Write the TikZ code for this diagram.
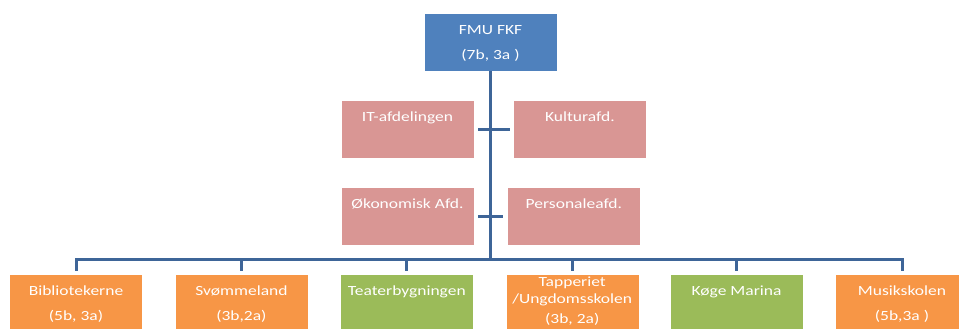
\documentclass[tikz,border=0pt]{standalone}
\usepackage{fontspec}
\setmainfont{Carlito}[FakeStretch=1.25]
\usetikzlibrary{positioning}

\definecolor{fmublue}{RGB}{79,129,189}
\definecolor{stabpink}{RGB}{217,150,148}
\definecolor{instorange}{RGB}{247,150,70}
\definecolor{instgreen}{RGB}{155,187,89}
\definecolor{linkblue}{RGB}{62,101,152}

\newcommand{\bx}[2][21.5pt]{\parbox[c][58pt][t]{133pt}{\centering\rule{0pt}{#1}#2}}

\begin{document}
\begin{tikzpicture}[x=1pt,y=-1pt,node distance=32pt,
    unit/.style={rectangle,minimum width=133pt,minimum height=58pt,inner sep=0pt,
      draw=white,line width=0.4pt,text=white,font=\fontsize{14}{25}\selectfont},
    conn/.style={draw=linkblue,line width=3pt}]

                \clip (0,0) rectangle (959,329);

                \node[unit,fill=fmublue] (fmu) at (490.5,42) {\bx{FMU FKF\\(7b, 3a )}};

                \node[unit,fill=stabpink] (it) at (407.5,129) {\bx{IT-afdelingen}};

                \node[unit,fill=stabpink] (kult) [right=39pt of it] {\bx{Kulturafd.}};

                \node[unit,fill=stabpink] (oek) [below=29pt of it] {\bx{Økonomisk Afd.}};

                \node[unit,fill=stabpink] (pers) [right=33pt of oek] {\bx{Personaleafd.}};

                \node[unit,fill=instorange] (bib) at (76,303) {\bx{Bibliotekerne\\(5b, 3a)}};

                \node[unit,fill=instorange] (svoem) [right=of bib] {\bx{Svømmeland\\(3b,2a)}};

                \node[unit,fill=instgreen] (teater) [right=of svoem] {\bx{Teaterbygningen}};

                \node[unit,fill=instorange] (tap) [right=of teater] {\bx[12.5pt]{Tapperiet\\[-8pt]/Ungdomsskolen\\[-5pt](3b, 2a)}};

                \node[unit,fill=instgreen] (marina) [right=31pt of tap] {\bx{Køge Marina}};

                \node[unit,fill=instorange] (musik) [right=of marina] {\bx{Musikskolen\\(5b,3a )}};

                \coordinate (bus) at (490.5,259);

                

                \draw[conn] (fmu.south) -- (bus);

                \draw[conn,shorten <=4pt,shorten >=3pt] (it) -- (kult);

                \draw[conn,shorten <=4pt,shorten >=4pt] (oek) -- (pers);

                \foreach \n in {bib,svoem,teater,tap,marina,musik}
                    \draw[conn,shorten >=3pt] (bus) -| (\n.north);

            \end{tikzpicture}
\end{document}
